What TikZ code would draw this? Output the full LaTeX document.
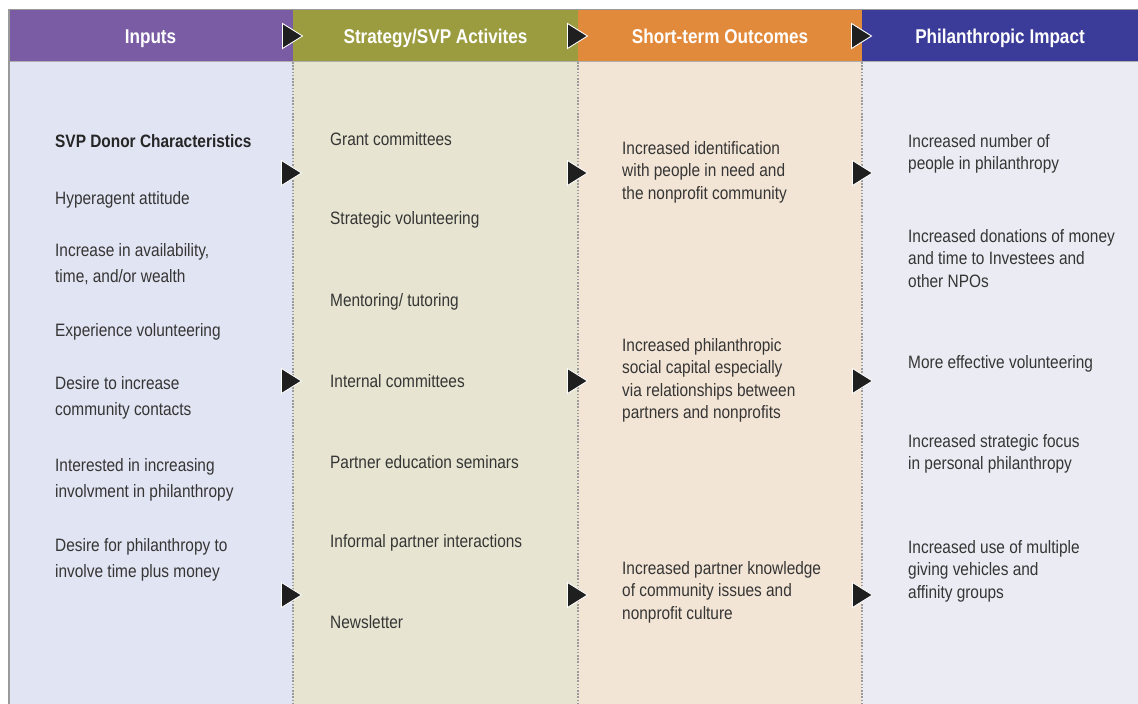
\documentclass[tikz,border=0pt]{standalone}
\usepackage{fontspec}
\setmainfont{Liberation Sans}[FakeStretch=0.86]
\definecolor{hpurple}{HTML}{7A5CA5}
\definecolor{holive}{HTML}{9B9B3F}
\definecolor{horange}{HTML}{E28A3B}
\definecolor{hnavy}{HTML}{3B3C99}
\definecolor{bblue}{HTML}{E1E4F2}
\definecolor{bbeige}{HTML}{E7E5D1}
\definecolor{bpeach}{HTML}{F3E5D5}
\definecolor{blav}{HTML}{EBEBF3}
\definecolor{txt}{HTML}{353535}
\definecolor{sep}{HTML}{9A9A9A}
\tikzset{
  headtxt/.style={text=white, font={\fontsize{20}{24}\selectfont\bfseries}, inner sep=0pt, anchor=base},
  txtA/.style={text=txt, font={\fontsize{18}{26}\selectfont}, align=left, inner sep=0pt, anchor=base west},
  txtB/.style={text=txt, font={\fontsize{18}{22.6}\selectfont}, align=left, inner sep=0pt, anchor=base west},
  septxt/.style={sep, line width=2pt, dash pattern=on 1.6pt off 1.6pt},
  arrtri/.style={fill=black!88, draw=white, line width=0.9pt, line join=miter}
}
\newcommand{\arrtip}[3]{%
  \coordinate (#1) at (#2,#3);
  \filldraw[arrtri] (#1) ++(-10.5,-12.5) -- ++(20,12.5) -- ++(-20,12.5) -- cycle;}
\begin{document}
\begin{tikzpicture}[x=1bp,y=-1bp]
\useasboundingbox (0,0) rectangle (1138,704);
\fill[white] (0,0) rectangle (1138,704);
% bodies
\fill[bblue] (8,61) rectangle (293,704);
\fill[bbeige] (293,61) rectangle (578,704);
\fill[bpeach] (578,61) rectangle (862,704);
\fill[blav] (862,61) rectangle (1138,704);
% headers
\fill[hpurple] (8,10) rectangle (293,61);
\fill[holive] (293,10) rectangle (578,61);
\fill[horange] (578,10) rectangle (862,61);
\fill[hnavy] (862,10) rectangle (1138,61);
\draw[sep, line width=1.5pt] (8,9.5) -- (1138,9.5);
\draw[sep!80, line width=0.8pt] (8,61) -- (1138,61);
\draw[sep, line width=2pt] (9,9) -- (9,704);
% separators
\draw[septxt] (293,62) -- (293,704);
\draw[septxt] (578,62) -- (578,704);
\draw[septxt] (862,62) -- (862,704);
% header texts
\node[headtxt] (h1) at (150.5,44) {Inputs};
\node[headtxt] (h2) at (435.5,44) {Strategy/SVP Activites};
\node[headtxt] (h3) at (720,44) {Short-term Outcomes};
\node[headtxt] (h4) at (1000,44) {Philanthropic Impact};
% arrows
\arrtip{ha1}{293}{36}
\arrtip{ha2}{578}{36}
\arrtip{ha3}{862}{36}
\arrtip{a11}{292}{173}
\arrtip{a12}{292}{381}
\arrtip{a13}{292}{595}
\arrtip{a21}{578}{173}
\arrtip{a22}{578}{381}
\arrtip{a23}{578}{595}
\arrtip{a31}{863}{173}
\arrtip{a32}{863}{381}
\arrtip{a33}{863}{595}
% column 1 (multi-line nodes anchored at last line's baseline)
\node[txtA, font={\fontsize{18}{26}\selectfont\bfseries}, text=black!85] (c1a) at (55,148) {SVP Donor Characteristics};
\node[txtA] (c1b) at (55,205) {Hyperagent attitude};
\node[txtA] (c1c) at (55,282) {Increase in availability,\\time, and/or wealth};
\node[txtA] (c1d) at (55,336) {Experience volunteering};
\node[txtA] (c1e) at (55,415) {Desire to increase\\community contacts};
\node[txtA] (c1f) at (55,497) {Interested in increasing\\involvment in philanthropy};
\node[txtA] (c1g) at (55,577) {Desire for philanthropy to\\involve time plus money};
% column 2
\node[txtA] (c2a) at (330,146) {Grant committees};
\node[txtA] (c2b) at (330,225) {Strategic volunteering};
\node[txtA] (c2c) at (330,306) {Mentoring/ tutoring};
\node[txtA] (c2d) at (330,387) {Internal committees};
\node[txtA] (c2e) at (330,468) {Partner education seminars};
\node[txtA] (c2f) at (330,547) {Informal partner interactions};
\node[txtA] (c2g) at (330,628) {Newsletter};
% column 3
\node[txtB] (c3a) at (622,199.2) {Increased identification\\with people in need and\\the nonprofit community};
\node[txtB] (c3b) at (622,418.8) {Increased philanthropic\\social capital especially\\via relationships between\\partners and nonprofits};
\node[txtB] (c3c) at (622,619.2) {Increased partner knowledge\\of community issues and\\nonprofit culture};
% column 4
\node[txtB] (c4a) at (908,169.6) {Increased number of\\people in philanthropy};
\node[txtB] (c4b) at (908,287.2) {Increased donations of money\\and time to Investees and\\other NPOs};
\node[txtB] (c4c) at (908,368) {More effective volunteering};
\node[txtB] (c4d) at (908,469.6) {Increased strategic focus\\in personal philanthropy};
\node[txtB] (c4e) at (908,598.2) {Increased use of multiple\\giving vehicles and\\affinity groups};
\end{tikzpicture}
\end{document}
